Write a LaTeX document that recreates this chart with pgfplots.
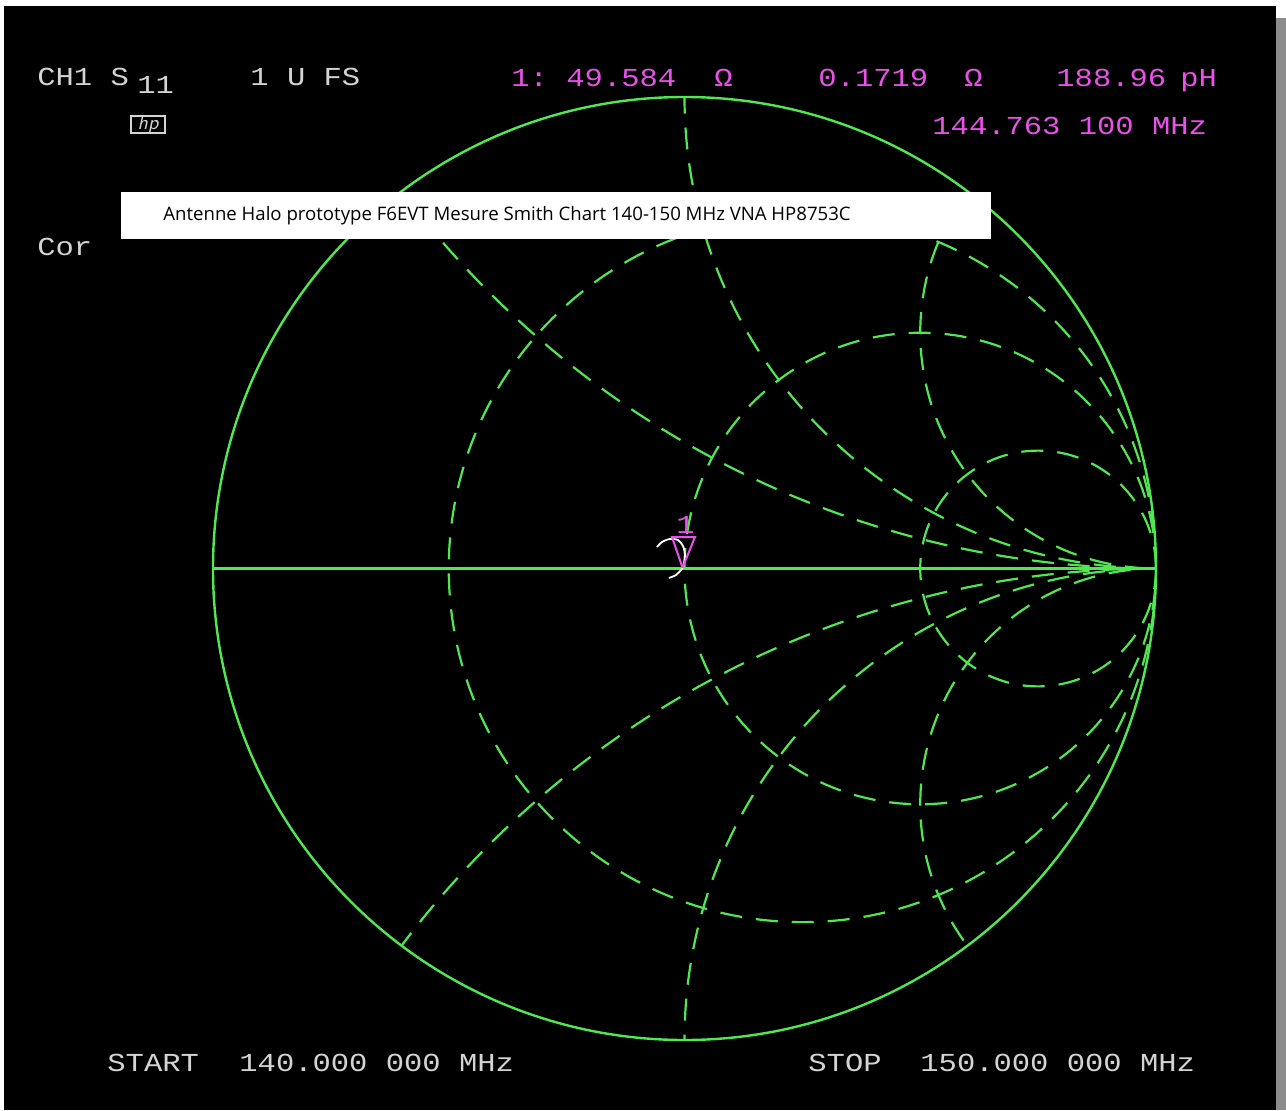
\documentclass[border=0pt]{standalone}
\usepackage{pgfplots}
\pgfplotsset{compat=1.18}
\usepackage{fontspec}
\setmainfont{Liberation Sans}
\newfontfamily\hpfont{Liberation Mono}
\newfontfamily\boxfont{Open Sans}
\definecolor{scrgreen}{RGB}{80,232,80}
\definecolor{scrmag}{RGB}{235,80,235}
\definecolor{scrwhite}{RGB}{212,212,212}
\definecolor{shadowgray}{RGB}{140,140,140}
\newcommand{\hpsize}{\hpfont\fontsize{15.25}{16}\selectfont}

% S11 trace near the centre (reflection coefficient, real / imaginary)
\pgfplotstableread{
re      im
-0.0583  0.0456
-0.0477  0.0562
-0.0308  0.0626
-0.0138  0.0604
-0.0032  0.0477
 0.0011  0.0286
-0.0011  0.0117
-0.0042  0.0017
-0.0074 -0.0032
-0.0180 -0.0138
-0.0329 -0.0201
}\traceS

\begin{document}
\begin{tikzpicture}
% screen frame, in pixels of the screenshot
\begin{scope}[x=0.5pt,y=-0.5pt]
\fill[white] (0,0) rectangle (1286,1110);
\fill[black] (4,6) rectangle (1276,1110);
\fill[shadowgray] (1276,18) rectangle (1286,1110);
\end{scope}

\begin{axis}[
  at={(0,0)}, anchor=north west,
  x=235.75pt, y=235.75pt,
  xmin=-1.45175, xmax=1.27571,
  ymin=-1.14846, ymax=1.20572,
  hide axis, clip=false,
]
% graticule
\draw[scrgreen, line width=1.2pt] (axis cs:0,0) circle[radius=235.75pt];
\draw[scrgreen, line width=1.1pt] (axis cs:-1,0) -- (axis cs:1,0);
\begin{scope}
\clip (axis cs:0,0) circle[radius=235.75pt];
\begin{scope}[scrgreen, line width=1.1pt, dash pattern=on 11pt off 7pt]
% constant resistance r = 1/3, 1, 3
\draw (axis cs:0.25,0) circle[radius=176.8125pt];
\draw (axis cs:0.5,0) circle[radius=117.875pt];
\draw (axis cs:0.75,0) circle[radius=58.9375pt];
% constant reactance x = +-0.5, +-1, +-2
\draw (axis cs:1,2) circle[radius=471.5pt];
\draw (axis cs:1,-2) circle[radius=471.5pt];
\draw (axis cs:1,1) circle[radius=235.75pt];
\draw (axis cs:1,-1) circle[radius=235.75pt];
\draw (axis cs:1,0.5) circle[radius=117.875pt];
\draw (axis cs:1,-0.5) circle[radius=117.875pt];
\end{scope}
\end{scope}

\addplot[white, line width=0.9pt, smooth, mark=none] table[x=re, y=im] {\traceS};
% marker 1
\addplot[scrmag, line width=1pt, mark=none] coordinates {
  (-0.0042,0.0017) (-0.0265,0.0668) (0.0223,0.0668) (-0.0042,0.0017)};
\node[scrmag, font=\hpsize, yscale=0.85, anchor=base] at (axis cs:0.002,0.075) {1};
\end{axis}

% screen annotations
\begin{scope}[x=0.5pt,y=-0.5pt]
\begin{scope}[every node/.style={font=\hpsize, yscale=0.85, anchor=base west, inner sep=0pt}]
\node[scrwhite] at (37,85) {CH1 S};
\node[scrwhite] at (137,93) {11};
\node[scrwhite] at (250,85) {1 U FS};
\node[scrwhite] at (37,255) {Cor};
\node[scrmag] at (511,86) {1:};
\node[scrmag] at (566,86) {49.584};
\node[scrmag] at (714,86) {Ω};
\node[scrmag] at (818,86) {0.1719};
\node[scrmag] at (964,86) {Ω};
\node[scrmag] at (1056,86) {188.96};
\node[scrmag] at (1180,86) {pH};
\node[scrmag] at (932,134) {144.763 100 MHz};
\node[scrwhite] at (107,1071) {START};
\node[scrwhite] at (239,1071) {140.000 000 MHz};
\node[scrwhite] at (808,1071) {STOP};
\node[scrwhite] at (920,1071) {150.000 000 MHz};
\end{scope}
\draw[scrwhite, line width=0.6pt] (131,116) rectangle (165,133);
\node[scrwhite, font=\sffamily\itshape\fontsize{10}{10}\selectfont] at (148,124) {hp};
\fill[white] (121,192) rectangle (991,239);
\node[black, anchor=base west, inner sep=0pt, font=\boxfont\fontsize{9.3}{10}\selectfont]
  at (163,220) {Antenne Halo prototype F6EVT Mesure Smith Chart 140-150 MHz VNA HP8753C};
\end{scope}
\end{tikzpicture}
\end{document}
